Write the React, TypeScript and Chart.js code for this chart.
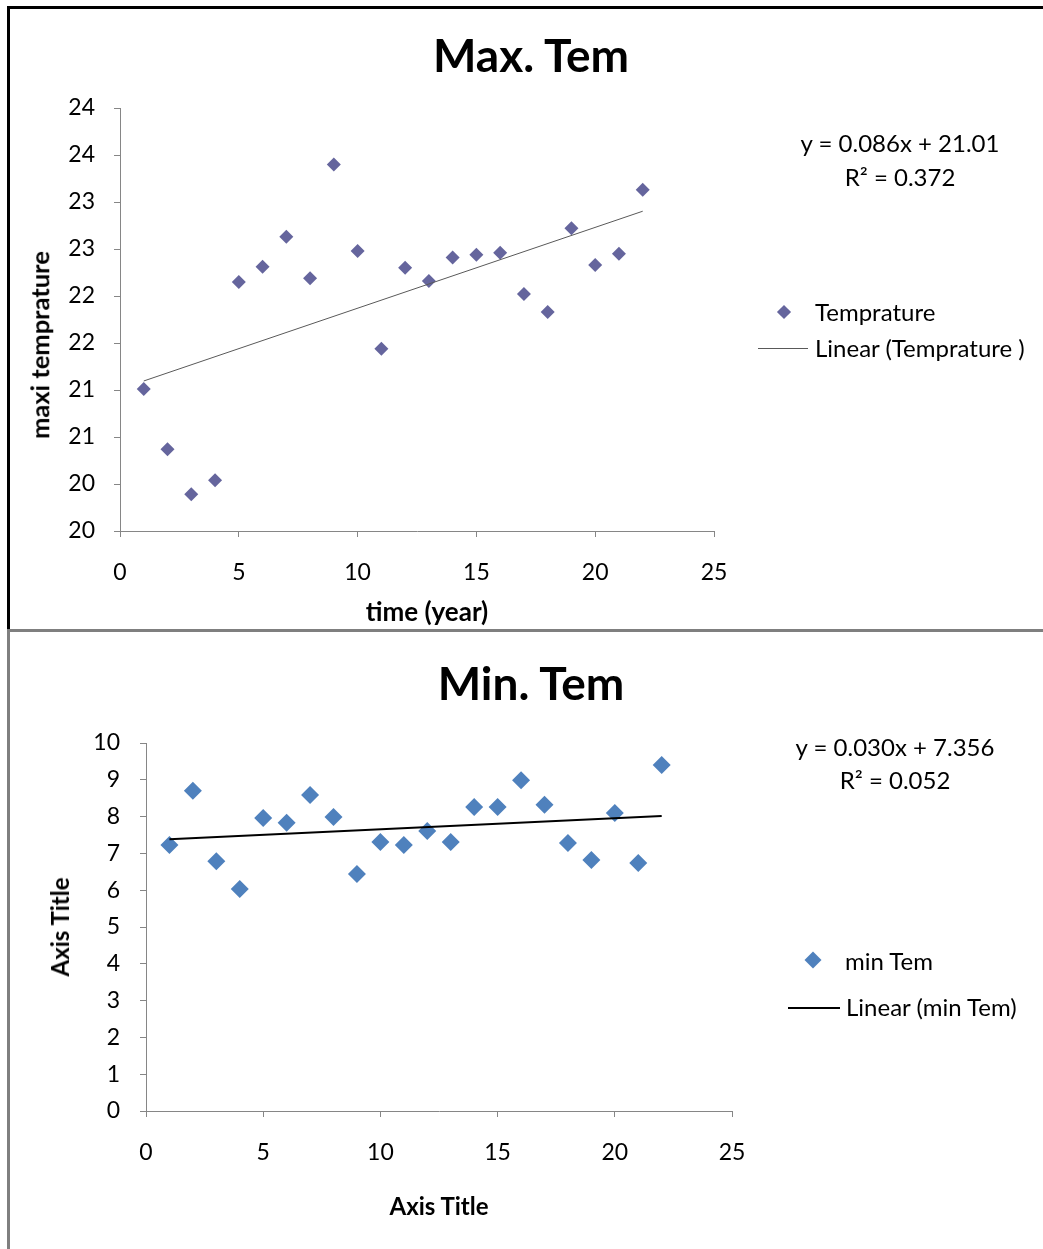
import React, { useEffect, useRef } from "react";
import { Chart, registerables } from "chart.js";

Chart.register(...registerables);

// ---------- data ----------
const years = [1, 2, 3, 4, 5, 6, 7, 8, 9, 10, 11, 12, 13, 14, 15, 16, 17, 18, 19, 20, 21, 22];
const maxTemp = [21.01, 20.37, 19.89, 20.04, 22.15, 22.31, 22.63, 22.19, 23.4, 22.48, 21.44, 22.3, 22.16, 22.41, 22.44, 22.46, 22.02, 21.83, 22.72, 22.33, 22.45, 23.13];
const minTemp = [7.23, 8.7, 6.79, 6.03, 7.96, 7.83, 8.59, 7.99, 6.44, 7.31, 7.23, 7.61, 7.31, 8.26, 8.26, 8.99, 8.32, 7.28, 6.82, 8.1, 6.74, 9.4];

const maxYTickLabels = ["20", "20", "21", "21", "22", "22", "23", "23", "24", "24"];
const minYTickLabels = ["0", "1", "2", "3", "4", "5", "6", "7", "8", "9", "10"];
const xTickLabels = ["0", "5", "10", "15", "20", "25"];

// trend line coefficients (as displayed on the chart)
const maxTrendSlope = 0.086;
const maxTrendIntercept = 21.01;
const minTrendSlope = 0.03;
const minTrendIntercept = 7.356;
const trendX = [1, 22];

const FONT = "Lato";
const AXIS_GRAY = "#868686";

type Cfg = {
  values: number[];
  label: string;
  trendLabel: string;
  color: string;
  radius: number;
  slope: number;
  intercept: number;
  trendColor: string;
  trendWidth: number;
  yMin: number;
  yMax: number;
  yStep: number;
  yLabels: string[];
  padTop: number;
  padRight: number;
  yAxisW: number;
  xAxisH: number;
  yTickPad: number;
  xTickPad: number;
};

function buildChart(canvas: HTMLCanvasElement, c: Cfg) {
  const tickFont = { family: FONT, size: 23 };
  return new Chart(canvas, {
    type: "scatter",
    data: {
      datasets: [
        {
          label: c.trendLabel,
          data: trendX.map((x) => ({ x, y: c.slope * x + c.intercept })),
          showLine: true,
          borderColor: c.trendColor,
          borderWidth: c.trendWidth,
          pointRadius: 0,
          order: 0,
        } as any,
        {
          label: c.label,
          data: years.map((x, i) => ({ x, y: c.values[i] })),
          pointStyle: "rectRot",
          pointRadius: c.radius,
          pointHoverRadius: c.radius,
          backgroundColor: c.color,
          borderColor: c.color,
          borderWidth: 0,
          order: 1,
        } as any,
      ],
    },
    options: {
      responsive: false,
      animation: false,
      events: [],
      layout: { padding: { top: c.padTop, right: c.padRight, left: 0, bottom: 0 } },
      plugins: {
        legend: { display: false },
        title: { display: false },
        tooltip: { enabled: false },
      },
      scales: {
        x: {
          type: "linear",
          min: 0,
          max: 25,
          ticks: {
            stepSize: 5,
            padding: c.xTickPad,
            font: tickFont,
            color: "#000",
            maxRotation: 0,
            callback: (_v: any, i: number) => xTickLabels[i],
          },
          grid: { drawOnChartArea: false, drawTicks: true, tickLength: 6, color: AXIS_GRAY },
          border: { color: AXIS_GRAY, width: 1 },
          afterFit: (s: any) => {
            s.height = c.xAxisH;
          },
        },
        y: {
          type: "linear",
          min: c.yMin,
          max: c.yMax,
          ticks: {
            stepSize: c.yStep,
            padding: c.yTickPad,
            font: tickFont,
            color: "#000",
            callback: (_v: any, i: number) => c.yLabels[i],
          },
          grid: { drawOnChartArea: false, drawTicks: true, tickLength: 6, color: AXIS_GRAY },
          border: { color: AXIS_GRAY, width: 1 },
          afterFit: (s: any) => {
            s.width = c.yAxisW;
          },
        },
      },
    } as any,
  });
}

const abs = (style: React.CSSProperties): React.CSSProperties => ({ position: "absolute", ...style });

function Txt({ x, y, children, size = 24, bold = false, align = "center", rotate = false }: any) {
  const tx = align === "center" ? "-50%" : "0";
  return (
    <div
      style={abs({
        left: x,
        top: y,
        transform: `translate(${tx}, -50%)${rotate ? " rotate(-90deg)" : ""}`,
        transformOrigin: rotate ? "50% 50%" : undefined,
        fontFamily: FONT,
        fontSize: size,
        fontWeight: bold ? 700 : 400,
        lineHeight: 1,
        whiteSpace: "nowrap",
        color: "#000",
      })}
    >
      {children}
    </div>
  );
}

export default function App() {
  const topRef = useRef<HTMLCanvasElement>(null);
  const botRef = useRef<HTMLCanvasElement>(null);

  useEffect(() => {
    const a = buildChart(topRef.current!, {
      values: maxTemp,
      label: "Temprature",
      trendLabel: "Linear (Temprature )",
      color: "#65659D",
      radius: 7,
      slope: maxTrendSlope,
      intercept: maxTrendIntercept,
      trendColor: "#595959",
      trendWidth: 1,
      yMin: 19.5,
      yMax: 24,
      yStep: 0.5,
      yLabels: maxYTickLabels,
      padTop: 108,
      padRight: 329,
      yAxisW: 120,
      xAxisH: 99,
      yTickPad: 19,
      xTickPad: 22,
    });
    const b = buildChart(botRef.current!, {
      values: minTemp,
      label: "min Tem",
      trendLabel: "Linear (min Tem)",
      color: "#4F81BD",
      radius: 9,
      slope: minTrendSlope,
      intercept: minTrendIntercept,
      trendColor: "#000000",
      trendWidth: 2,
      yMin: 0,
      yMax: 10,
      yStep: 1,
      yLabels: minYTickLabels,
      padTop: 113,
      padRight: 311,
      yAxisW: 146,
      xAxisH: 138,
      yTickPad: 20,
      xTickPad: 22,
    });
    return () => {
      a.destroy();
      b.destroy();
    };
  }, []);

  return (
    <div style={abs({ left: 0, top: 0, width: 1043, height: 1249, background: "#fff", overflow: "hidden" })}>
      <canvas ref={topRef} width={1043} height={630} style={abs({ left: 0, top: 0, width: 1043, height: 630 })} />
      <canvas ref={botRef} width={1043} height={619} style={abs({ left: 0, top: 630, width: 1043, height: 619 })} />

      {/* frame lines */}
      <div style={abs({ left: 7, top: 6, width: 1036, height: 3, background: "#000" })} />
      <div style={abs({ left: 7, top: 6, width: 3, height: 624, background: "#000" })} />
      <div style={abs({ left: 7, top: 629, width: 1036, height: 3, background: "#7f7f7f" })} />
      <div style={abs({ left: 7, top: 630, width: 3, height: 619, background: "#7f7f7f" })} />

      {/* top chart texts */}
      <Txt x={531} y={55} size={46} bold>Max. Tem</Txt>
      <Txt x={40} y={345} size={25.5} bold rotate>maxi temprature</Txt>
      <Txt x={427} y={611} size={26} bold>time (year)</Txt>
      <Txt x={900} y={143}>y = 0.086x + 21.01</Txt>
      <Txt x={900} y={177}>R² = 0.372</Txt>
      <div style={abs({ left: 779, top: 307, width: 10, height: 10, background: "#65659D", transform: "rotate(45deg)" })} />
      <Txt x={815} y={312} align="left">Temprature</Txt>
      <div style={abs({ left: 758, top: 348, width: 50, height: 1, background: "#595959" })} />
      <Txt x={815} y={348} align="left">Linear (Temprature )</Txt>

      {/* bottom chart texts */}
      <Txt x={531} y={683} size={46} bold>Min. Tem</Txt>
      <Txt x={60} y={927} size={24} bold rotate>Axis Title</Txt>
      <Txt x={439} y={1206} size={24} bold>Axis Title</Txt>
      <Txt x={895} y={747}>y = 0.030x + 7.356</Txt>
      <Txt x={895} y={780}>R² = 0.052</Txt>
      <div style={abs({ left: 807, top: 954, width: 12, height: 12, background: "#4F81BD", transform: "rotate(45deg)" })} />
      <Txt x={845} y={961} align="left">min Tem</Txt>
      <div style={abs({ left: 788, top: 1007, width: 52, height: 2, background: "#000" })} />
      <Txt x={846} y={1007} align="left">Linear (min Tem)</Txt>
    </div>
  );
}
